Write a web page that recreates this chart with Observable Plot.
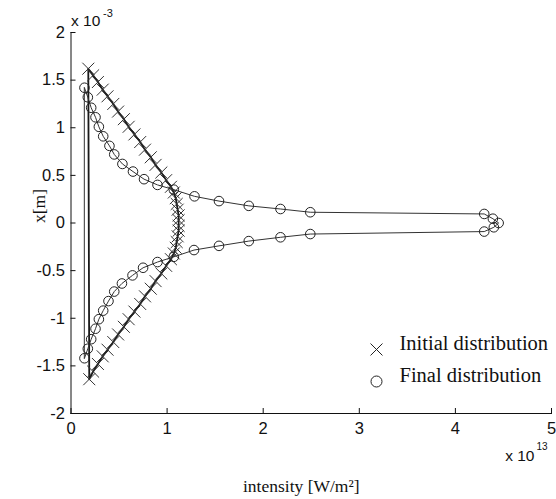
<!DOCTYPE html>
<html>
<head>
<meta charset="utf-8">
<script src="https://cdn.jsdelivr.net/npm/d3@7"></script>
<script src="https://cdn.jsdelivr.net/npm/@observablehq/plot@0.6"></script>
<style>
  body { margin: 0; background: #fff; }
  #chart svg { display: block; }
</style>
</head>
<body>
<div id="chart"></div>
<script>
// Beam cross-section: position x (units of 1e-3 m) against intensity (units of 1e13 W/m^2)
const initialX = [1.62, 1.55, 1.48, 1.40, 1.33, 1.25, 1.17, 1.09, 1.01, 0.93, 0.85, 0.77, 0.69, 0.61, 0.53, 0.45, 0.38, 0.32, 0.26, 0.20, 0.14, 0.08, 0.03,
                  -0.03, -0.08, -0.14, -0.20, -0.26, -0.32, -0.38, -0.45, -0.53, -0.61, -0.69, -0.77, -0.85, -0.93, -1.01, -1.09, -1.17, -1.25, -1.33, -1.40, -1.48, -1.56, -1.64];
const initialI = [0.18, 0.23, 0.28, 0.33, 0.38, 0.44, 0.49, 0.55, 0.60, 0.66, 0.72, 0.77, 0.83, 0.88, 0.94, 0.99, 1.04, 1.07, 1.09, 1.10, 1.11, 1.12, 1.12,
                  1.12, 1.12, 1.11, 1.10, 1.09, 1.07, 1.04, 0.99, 0.94, 0.88, 0.83, 0.77, 0.72, 0.66, 0.60, 0.55, 0.49, 0.44, 0.38, 0.33, 0.28, 0.23, 0.19];

const finalX = [1.42, 1.32, 1.21, 1.11, 1.01, 0.91, 0.81, 0.72, 0.62, 0.54, 0.46, 0.40, 0.35, 0.28, 0.23, 0.18, 0.147, 0.113, 0.095, 0.045, 0.0,
                -0.045, -0.09, -0.116, -0.15, -0.19, -0.24, -0.284, -0.355, -0.41, -0.47, -0.55, -0.635, -0.72, -0.82, -0.92, -1.01, -1.11, -1.22, -1.32, -1.42];
const finalI = [0.14, 0.175, 0.21, 0.255, 0.29, 0.335, 0.40, 0.45, 0.535, 0.645, 0.76, 0.90, 1.07, 1.285, 1.54, 1.85, 2.18, 2.49, 4.30, 4.39, 4.45,
                4.40, 4.30, 2.49, 2.18, 1.85, 1.54, 1.28, 1.07, 0.90, 0.75, 0.64, 0.53, 0.45, 0.39, 0.335, 0.29, 0.255, 0.21, 0.175, 0.14];

const xTicks = [0, 1, 2, 3, 4, 5];
const yTicks = [-2, -1.5, -1, -0.5, 0, 0.5, 1, 1.5, 2];
const legendLabels = ["Initial distribution", "Final distribution"];
const xTitle = "intensity [W/m\u00B2]";
const yTitle = "x[m]";

const initial = initialX.map((x, i) => ({x, I: initialI[i]}));
const final = finalX.map((x, i) => ({x, I: finalI[i]}));

const sans = "'Liberation Sans', Arial, sans-serif";
const serif = "'Liberation Serif', 'Times New Roman', serif";

const W = 556, H = 499;
const mL = 70.5, mR = 5, mT = 32, mB = 86;
const frameW = W - mL - mR, frameH = H - mT - mB;
const tickLen = 5;

const chart = Plot.plot({
  width: W,
  height: H,
  marginLeft: mL,
  marginRight: mR,
  marginTop: mT,
  marginBottom: mB,
  style: {fontFamily: sans, fontSize: "16px", color: "#111", background: "#fff"},
  x: {domain: [0, 5], axis: null},
  y: {domain: [-2, 2], axis: null},
  marks: [
    // tick labels
    Plot.axisX(xTicks, {tickSize: 0, tickPadding: 9, tickFormat: d => String(d), label: null, fontSize: 16.5}),
    Plot.axisY(yTicks, {tickSize: 0, tickPadding: 6, tickFormat: d => String(d), label: null, fontSize: 16.5}),
    // inward ticks along the bottom and left axes
    Plot.tickX(xTicks, {x: d => d, insetTop: frameH - tickLen, stroke: "#111"}),
    Plot.tickY(yTicks, {y: d => d, insetRight: frameW - tickLen, stroke: "#111"}),
    // axis lines (left and bottom only)
    Plot.frame({anchor: "left", stroke: "#111"}),
    Plot.frame({anchor: "bottom", stroke: "#111"}),
    // exponent annotations
    Plot.text(["x 10"], {frameAnchor: "top-left", dx: 0, dy: -7, textAnchor: "start", lineAnchor: "bottom", fontSize: 15.5, fill: "#111"}),
    Plot.text(["-3"], {frameAnchor: "top-left", dx: 32, dy: -16, textAnchor: "start", lineAnchor: "bottom", fontSize: 11, fill: "#111"}),
    Plot.text(["x 10"], {frameAnchor: "bottom-right", dx: -17, dy: 47, textAnchor: "end", lineAnchor: "bottom", fontSize: 15.5, fill: "#111"}),
    Plot.text(["13"], {frameAnchor: "bottom-right", dx: -15, dy: 36, textAnchor: "start", lineAnchor: "bottom", fontSize: 10, fill: "#111"}),
    // axis titles
    Plot.text([xTitle], {frameAnchor: "bottom", dx: -10, dy: 66, lineAnchor: "top", fontFamily: serif, fontSize: 17.5, fill: "#111"}),
    Plot.text([yTitle], {frameAnchor: "left", dx: -32, rotate: -90, fontFamily: serif, fontSize: 17.5, fill: "#111"}),
    // data: closed outlines with markers
    Plot.line(initial, {x: "I", y: "x", curve: "linear-closed", stroke: "#1a1a1a", strokeWidth: 1.8}),
    Plot.line(final, {x: "I", y: "x", curve: "linear-closed", stroke: "#333", strokeWidth: 1}),
    Plot.dot(initial, {x: "I", y: "x", symbol: "times", r: 5.5, stroke: "#333", strokeWidth: 1}),
    Plot.dot(final, {x: "I", y: "x", symbol: "circle", r: 4.8, stroke: "#222", strokeWidth: 1, fill: "none"}),
    // legend
    Plot.dot([legendLabels[0]], {frameAnchor: "bottom-right", dx: -175, dy: -64, symbol: "times", r: 5.5, stroke: "#222", strokeWidth: 1}),
    Plot.dot([legendLabels[1]], {frameAnchor: "bottom-right", dx: -175, dy: -32, symbol: "circle", r: 5.5, stroke: "#222", strokeWidth: 1, fill: "none"}),
    Plot.text([legendLabels[0]], {frameAnchor: "bottom-right", dx: -152, dy: -64, text: d => d, textAnchor: "start", fontFamily: serif, fontSize: 20.5, fill: "#111"}),
    Plot.text([legendLabels[1]], {frameAnchor: "bottom-right", dx: -152, dy: -32, text: d => d, textAnchor: "start", fontFamily: serif, fontSize: 20.5, fill: "#111"})
  ]
});

document.getElementById("chart").append(chart);
</script>
</body>
</html>
